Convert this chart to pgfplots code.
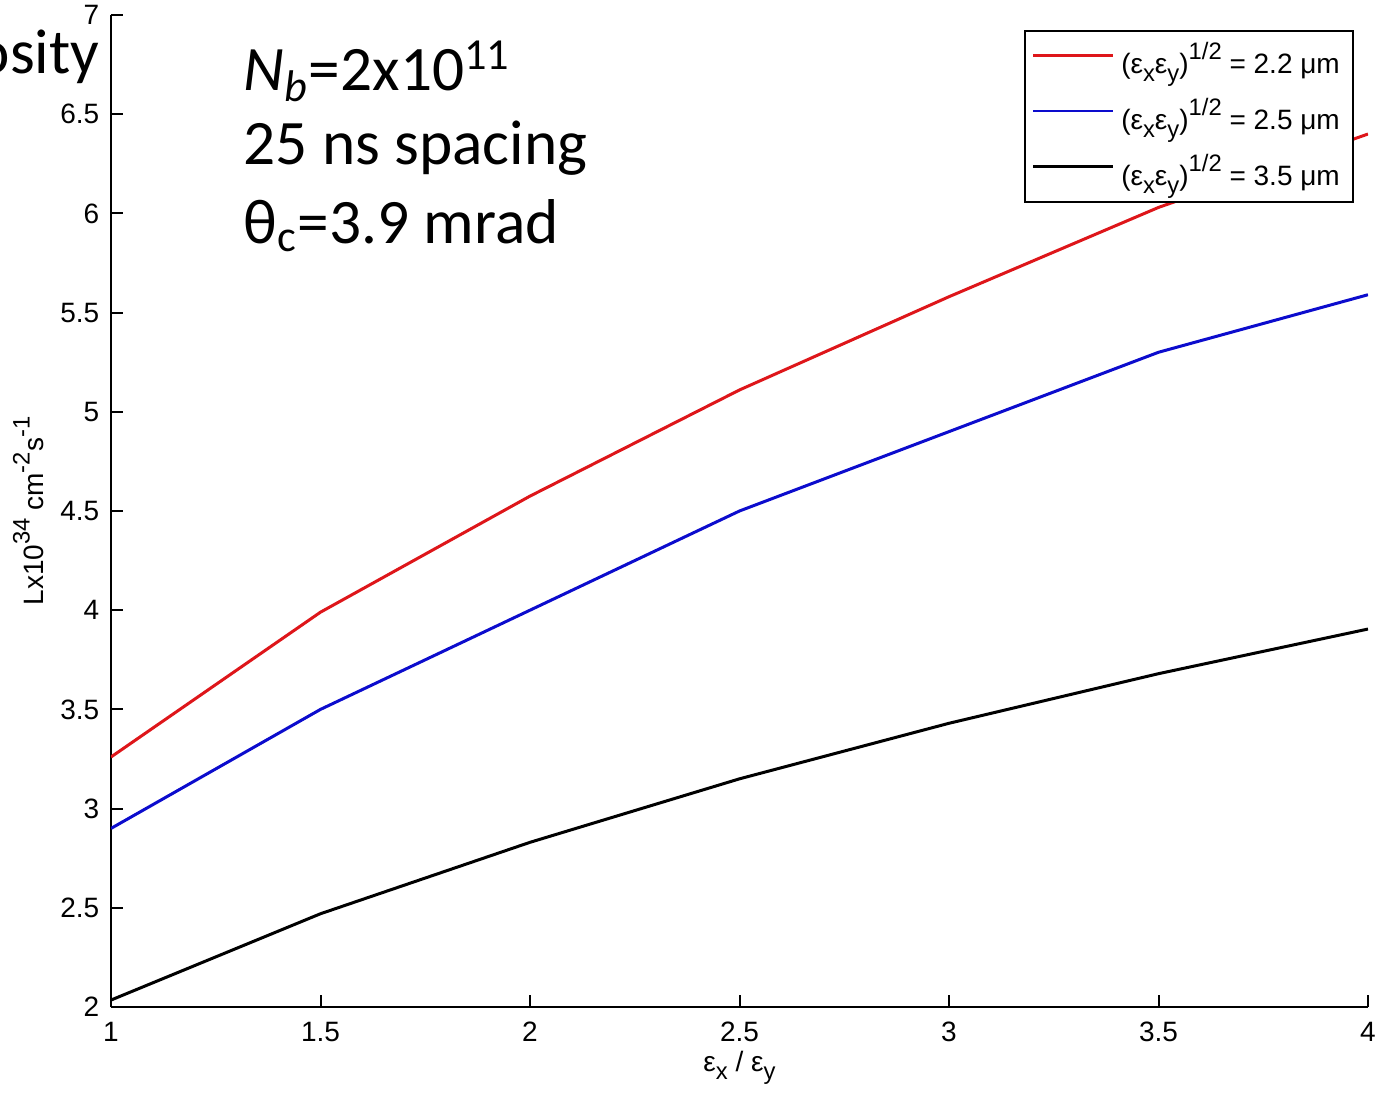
\documentclass[border=0pt]{standalone}
\usepackage{fontspec}
\setmainfont{Liberation Sans}
\newfontfamily\calibri{Carlito}
\usepackage{pgfplots}
\pgfplotsset{compat=1.18}
\definecolor{mred}{RGB}{222,22,26}
\definecolor{mblue}{RGB}{12,12,205}
% MATLAB-like sub/superscripts, a bit larger than \textsubscript
\newcommand\lo[1]{\raisebox{-0.55ex}{\scalebox{0.85}{#1}}}
\newcommand\hi[1]{\raisebox{0.95ex}{\scalebox{0.85}{#1}}}

\begin{document}
\begin{tikzpicture}
\useasboundingbox (-33.3pt,-26.4pt) rectangle (380.7pt,302.1pt);
\clip (-33.3pt,-26.4pt) rectangle (380.7pt,302.1pt);
\begin{axis}[
    at={(0,0)}, anchor=south west,
    scale only axis,
    width=377.1pt, height=297.6pt,
    xmin=1, xmax=4, ymin=2, ymax=7,
    xtick={1,1.5,...,4},
    ytick={2,2.5,...,7},
    axis x line*=bottom, axis y line*=left,
    axis line style={-, line width=0.6pt},
    tick style={line width=0.6pt, black},
    tick align=inside,
    major tick length=3.6pt,
    /pgf/number format/assume math mode=true,
    tick label style={font=\fontsize{8.4}{10}\selectfont},
    xticklabel style={yshift=-1pt},
    xlabel={ε\lo{x} / ε\lo{y}},
    ylabel={Lx10\hi{34} cm\hi{-2}s\hi{-1}},
    label style={font=\fontsize{8.4}{10}\selectfont},
    xlabel style={yshift=4pt},
    ylabel style={yshift=-2pt},
    legend style={at={(0.989,0.985)}, anchor=north east,
                  font=\fontsize{8.4}{10}\selectfont,
                  draw=black, line width=0.6pt,
                  inner xsep=2pt, inner ysep=1.5pt,
                  row sep=1.8pt},
    legend cell align=left,
    legend image post style={line width=0.8pt},
    legend image code/.code={\draw[#1] (0pt,0.3ex) -- (24pt,0.3ex);},
    every axis plot/.append style={line width=0.9pt},
]
\addplot[mred] coordinates {
    (1,3.26) (1.5,3.99) (2,4.575) (2.5,5.11) (3,5.58) (3.5,6.03) (4,6.40)
};
\addplot[mblue] coordinates {
    (1,2.90) (1.5,3.50) (2,4.00) (2.5,4.50) (3,4.90) (3.5,5.30) (4,5.59)
};
\addplot[black] coordinates {
    (1,2.035) (1.5,2.47) (2,2.83) (2.5,3.15) (3,3.43) (3.5,3.68) (4,3.905)
};
\legend{{(ε\lo{x}ε\lo{y})\hi{1/2} = 2.2 μm},
        {(ε\lo{x}ε\lo{y})\hi{1/2} = 2.5 μm},
        {(ε\lo{x}ε\lo{y})\hi{1/2} = 3.5 μm}}

\node[anchor=base west, inner sep=0pt, font=\calibri\fontsize{19}{23}\selectfont]
    at (rel axis cs:0.105,0.924) {\textit{N}\textsubscript{\textit{b}}=2x10\textsuperscript{11}};
\node[anchor=base west, inner sep=0pt, font=\calibri\fontsize{19}{23}\selectfont]
    at (rel axis cs:0.105,0.849) {25 ns spacing};
\node[anchor=base west, inner sep=0pt, font=\calibri\fontsize{19}{23}\selectfont]
    at (rel axis cs:0.105,0.770) {θ\textsubscript{c}=3.9 mrad};
\end{axis}
\node[anchor=base east, inner sep=0pt, font=\calibri\fontsize{19}{23}\selectfont]
    at (-3.3pt,279.9pt) {Luminosity};
\end{tikzpicture}
\end{document}
